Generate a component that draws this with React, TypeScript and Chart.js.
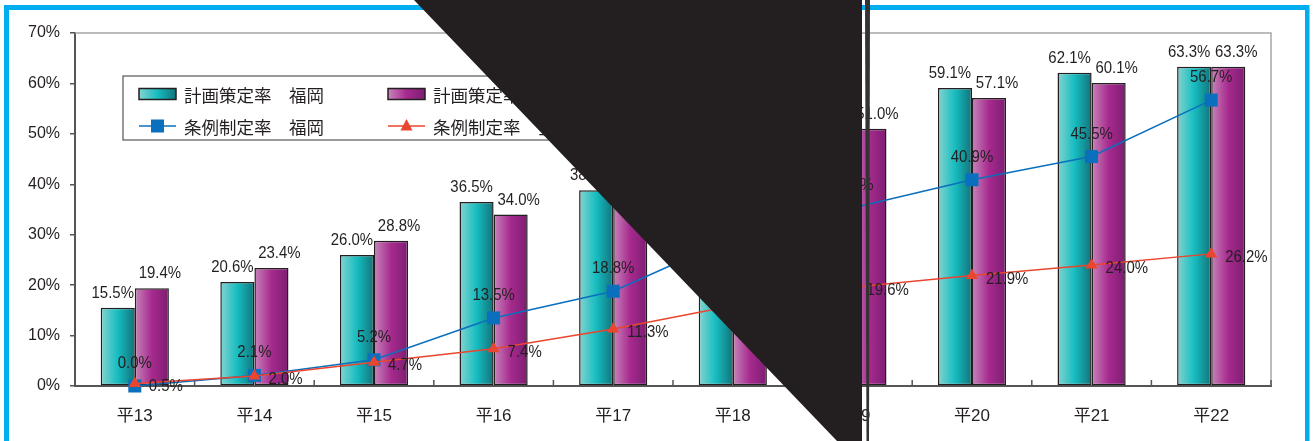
import React, { useEffect, useRef } from 'react';
import { Chart, registerables } from 'chart.js';

Chart.register(...registerables);

// ---------- data ----------
const categories = ['平13', '平14', '平15', '平16', '平17', '平18', '平19', '平20', '平21', '平22'];
const seriesNames = ['計画策定率　福岡', '計画策定率　全国', '条例制定率　福岡', '条例制定率　全国'];
const planFukuoka = [15.5, 20.6, 26.0, 36.5, 38.8, 47.0, 54.5, 59.1, 62.1, 63.3];
const planNational = [19.4, 23.4, 28.8, 34.0, 40.0, 45.9, 51.0, 57.1, 60.1, 63.3];
const ordinanceFukuoka = [0.0, 2.1, 5.2, 13.5, 18.8, 29.4, 35.3, 40.9, 45.5, 56.7];
const ordinanceNational = [0.5, 2.0, 4.7, 7.4, 11.3, 15.9, 19.6, 21.9, 24.0, 26.2];
const yMin = 0;
const yMax = 70;
const yStep = 10;

// ---------- styles ----------
const NUM_FONT = "'Liberation Sans', Arial, sans-serif";
const JP_FONT = "'Noto Sans CJK JP', 'Noto Sans CJK SC', sans-serif";
const TEXT = '#231f20';
const AXIS = '#555555';
const BLUE = '#0a6fbd';
const RED = '#e9452f';
const CYAN = '#00aeef';
const CAT_PCT = 0.57;
const LABEL_SQUEEZE = 0.88;
const TEAL_STOPS: [number, string][] = [[0, '#86d3cf'], [0.5, '#16bdc1'], [1, '#12737a']];
const MAG_STOPS: [number, string][] = [[0, '#c685ba'], [0.5, '#a72a8e'], [1, '#7c1d71']];

function makeGrad(c: CanvasRenderingContext2D, x0: number, x1: number, stops: [number, string][]) {
  const g = c.createLinearGradient(x0, 0, x1, 0);
  stops.forEach(([p, col]) => g.addColorStop(p, col));
  return g;
}

function barFill(which: number) {
  return (sc: any) => {
    const chart = sc.chart;
    const stops = which === 0 ? TEAL_STOPS : MAG_STOPS;
    const x = chart.scales && chart.scales.x;
    if (!x || sc.dataIndex === undefined || !x.width) return stops[1][1];
    const c = x.getPixelForValue(sc.dataIndex);
    const w = (x.width / categories.length) * CAT_PCT / 2;
    const left = which === 0 ? c - w : c;
    return makeGrad(chart.ctx, left, left + w, stops);
  };
}

const fmt = (v: number) => v.toFixed(1) + '%';

function squeezedText(ctx: CanvasRenderingContext2D, text: string, x: number, y: number, align: CanvasTextAlign) {
  ctx.save();
  ctx.translate(x, y);
  ctx.scale(LABEL_SQUEEZE, 1);
  ctx.textAlign = align;
  ctx.fillText(text, 0, 0);
  ctx.restore();
}

const framePlugin = {
  id: 'plotFrame',
  beforeDatasetsDraw(chart: any) {
    const { ctx, chartArea: a } = chart;
    ctx.save();
    ctx.strokeStyle = '#a6a6a6';
    ctx.lineWidth = 1.5;
    ctx.beginPath();
    ctx.moveTo(a.left, a.top);
    ctx.lineTo(a.right, a.top);
    ctx.lineTo(a.right, a.bottom);
    ctx.stroke();
    // inward category separator ticks
    const catW = (a.right - a.left) / categories.length;
    ctx.strokeStyle = AXIS;
    ctx.lineWidth = 1.5;
    for (let i = 1; i <= categories.length; i++) {
      const xb = a.left + catW * i;
      ctx.beginPath();
      ctx.moveTo(xb, a.bottom);
      ctx.lineTo(xb, a.bottom - 6);
      ctx.stroke();
    }
    ctx.restore();
  },
};

const labelPlugin = {
  id: 'valueLabels',
  afterDatasetsDraw(chart: any) {
    const ctx = chart.ctx;
    ctx.save();
    ctx.font = `17px ${NUM_FONT}`;
    ctx.fillStyle = TEXT;
    ctx.textBaseline = 'alphabetic';
    [0, 1].forEach((di) => {
      const meta = chart.getDatasetMeta(di);
      meta.data.forEach((el: any, i: number) => {
        squeezedText(ctx, fmt(chart.data.datasets[di].data[i]), el.x + (di === 0 ? -5 : 8), el.y - 10, 'center');
      });
    });
    chart.getDatasetMeta(2).data.forEach((el: any, i: number) => {
      squeezedText(ctx, fmt(chart.data.datasets[2].data[i]), el.x, el.y - 18, 'center');
    });
    chart.getDatasetMeta(3).data.forEach((el: any, i: number) => {
      squeezedText(ctx, fmt(chart.data.datasets[3].data[i]), el.x + 14, el.y + 8, 'left');
    });

    // legend box
    const a = chart.chartArea;
    const bx = a.left + 48;
    const by = a.top + 43;
    const bw = 480;
    const bh = 64;
    ctx.fillStyle = '#ffffff';
    ctx.fillRect(bx, by, bw, bh);
    ctx.strokeStyle = AXIS;
    ctx.lineWidth = 1.2;
    ctx.strokeRect(bx, by, bw, bh);
    const cols = [bx + 16, bx + 265];
    const rows = [by + 18, by + 50];
    const sw = 37;
    ctx.font = `17.5px ${JP_FONT}`;
    ctx.textAlign = 'left';
    ctx.textBaseline = 'middle';
    seriesNames.forEach((name, k) => {
      const sx = cols[k % 2];
      const sy = rows[Math.floor(k / 2)];
      if (k < 2) {
        ctx.fillStyle = makeGrad(ctx, sx, sx + sw, k === 0 ? TEAL_STOPS : MAG_STOPS);
        ctx.fillRect(sx, sy - 5.5, sw, 11);
        ctx.strokeStyle = TEXT;
        ctx.lineWidth = 1.5;
        ctx.strokeRect(sx, sy - 5.5, sw, 11);
      } else {
        const col = k === 2 ? BLUE : RED;
        ctx.strokeStyle = col;
        ctx.lineWidth = 1.5;
        ctx.beginPath();
        ctx.moveTo(sx, sy);
        ctx.lineTo(sx + sw, sy);
        ctx.stroke();
        ctx.fillStyle = col;
        const cx = sx + sw / 2;
        if (k === 2) {
          ctx.fillRect(cx - 6.5, sy - 6.5, 13, 13);
        } else {
          ctx.beginPath();
          ctx.moveTo(cx, sy - 7);
          ctx.lineTo(cx + 6, sy + 4.5);
          ctx.lineTo(cx - 6, sy + 4.5);
          ctx.closePath();
          ctx.fill();
        }
      }
      ctx.fillStyle = TEXT;
      ctx.fillText(name, sx + 45, sy + 1);
    });
    ctx.restore();
  },
};

const overlayPlugin = {
  id: 'pageOverlay',
  afterDraw(chart: any) {
    const ctx = chart.ctx;
    const W = chart.width;
    const H = chart.height;
    ctx.save();
    // cyan outer frame
    ctx.fillStyle = CYAN;
    ctx.fillRect(4, 5, W - 8, 5);
    ctx.fillRect(4, 5, 5, H - 5);
    ctx.fillRect(W - 8, 5, 4.5, H - 5);
    // dark folded corner
    ctx.fillStyle = '#231f20';
    ctx.beginPath();
    ctx.moveTo(414, 0);
    ctx.lineTo(862, 0);
    ctx.lineTo(862, H);
    ctx.lineTo(837, H);
    ctx.closePath();
    ctx.fill();
    // crease line
    ctx.fillStyle = '#333333';
    ctx.beginPath();
    ctx.moveTo(865, 0);
    ctx.lineTo(870, 0);
    ctx.lineTo(869, H);
    ctx.lineTo(866.5, H);
    ctx.closePath();
    ctx.fill();
    ctx.restore();
  },
};

export default function App() {
  const ref = useRef<HTMLCanvasElement>(null);
  useEffect(() => {
    document.body.style.margin = '0';
    const canvas = ref.current;
    if (!canvas) return;
    const chart = new Chart(canvas, {
      type: 'bar',
      data: {
        labels: categories,
        datasets: [
          {
            type: 'bar',
            label: seriesNames[0],
            data: planFukuoka,
            backgroundColor: barFill(0) as any,
            borderColor: TEXT,
            borderWidth: 1.5,
            borderSkipped: false,
            categoryPercentage: CAT_PCT,
            barPercentage: 1,
            order: 2,
          },
          {
            type: 'bar',
            label: seriesNames[1],
            data: planNational,
            backgroundColor: barFill(1) as any,
            borderColor: TEXT,
            borderWidth: 1.5,
            borderSkipped: false,
            categoryPercentage: CAT_PCT,
            barPercentage: 1,
            order: 2,
          },
          {
            type: 'line',
            label: seriesNames[2],
            data: ordinanceFukuoka,
            borderColor: BLUE,
            backgroundColor: BLUE,
            borderWidth: 1.5,
            pointStyle: 'rect',
            pointRadius: 9.2,
            pointBorderWidth: 0,
            tension: 0,
            clip: false as any,
            order: 1,
          },
          {
            type: 'line',
            label: seriesNames[3],
            data: ordinanceNational,
            borderColor: RED,
            backgroundColor: RED,
            borderWidth: 1.5,
            pointStyle: 'triangle',
            pointRadius: 7,
            pointBorderWidth: 0,
            tension: 0,
            clip: false as any,
            order: 0,
          },
        ] as any,
      },
      options: {
        responsive: false,
        animation: false,
        devicePixelRatio: 1,
        layout: { padding: { left: 0, top: 33, right: 42, bottom: 0 } },
        plugins: {
          legend: { display: false },
          tooltip: { enabled: false },
        },
        scales: {
          x: {
            offset: true,
            grid: { display: false },
            border: { display: true, color: AXIS, width: 2 },
            ticks: {
              color: TEXT,
              padding: 12,
              font: { family: "'Liberation Sans', 'Noto Sans CJK JP', sans-serif", size: 17 },
            },
            afterFit: (s: any) => { s.height = 55; },
          },
          y: {
            min: yMin,
            max: yMax,
            grid: {
              display: true,
              drawOnChartArea: false,
              drawTicks: true,
              tickLength: 5,
              color: AXIS,
              lineWidth: 1.5,
            },
            border: { display: true, color: AXIS, width: 2 },
            ticks: {
              stepSize: yStep,
              color: TEXT,
              padding: 10,
              font: { family: NUM_FONT, size: 16 },
              callback: (v: any) => v + '%',
            },
            afterFit: (s: any) => { s.width = 75; },
          },
        },
      },
      plugins: [framePlugin, labelPlugin, overlayPlugin],
    });
    return () => chart.destroy();
  }, []);
  return (
    <canvas
      ref={ref}
      width={1313}
      height={441}
      style={{ display: 'block', width: '1313px', height: '441px' }}
    />
  );
}
